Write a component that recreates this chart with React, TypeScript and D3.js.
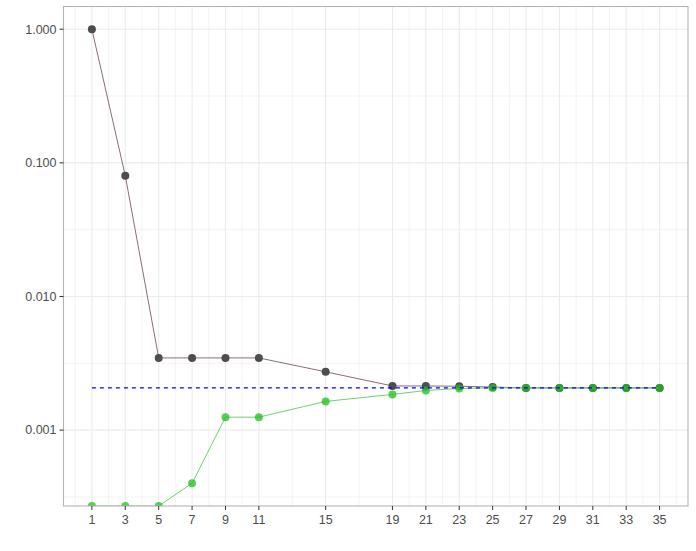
import React from "react";
import * as d3 from "d3";

const xTicks = [1, 3, 5, 7, 9, 11, 15, 19, 21, 23, 25, 27, 29, 31, 33, 35];
const darkValues = [1, 0.08, 0.00347, 0.00347, 0.00347, 0.00347, 0.00273, 0.00214, 0.00214, 0.00213, 0.0021, 0.00207, 0.00207, 0.00207, 0.00207, 0.00207];
const greenValues = [0, 0, 0, 0.0004, 0.00125, 0.00125, 0.00164, 0.00185, 0.00198, 0.00205, 0.00207, 0.00207, 0.00207, 0.00207, 0.00207, 0.00207];
const refValue = 0.00207;
const yTicks = [0.001, 0.01, 0.1, 1];
const yTickLabels = ["0.001", "0.010", "0.100", "1.000"];

const W = 696;
const H = 551;
const panel = { left: 63.5, right: 688, top: 6.5, bottom: 506 };

export default function App() {
  const xMin = d3.min(xTicks)!;
  const xMax = d3.max(xTicks)!;
  const xPad = (xMax - xMin) * 0.05;
  const x = d3.scaleLinear().domain([xMin - xPad, xMax + xPad]).range([panel.left, panel.right]);

  const positives = [...darkValues, ...greenValues].filter((v) => v > 0);
  const lo = Math.log10(d3.min(positives)!);
  const hi = Math.log10(d3.max(positives)!);
  const yPad = (hi - lo) * 0.05;
  const y = d3.scaleLog().domain([Math.pow(10, lo - yPad), Math.pow(10, hi + yPad)]).range([panel.bottom, panel.top]);
  const yv = (v: number) => (v <= 0 ? panel.bottom : y(v));

  // minor breaks
  const xb = [xTicks[0] - (xTicks[1] - xTicks[0]), ...xTicks, xTicks[xTicks.length - 1] + (xTicks[xTicks.length - 1] - xTicks[xTicks.length - 2])];
  const xMinor: number[] = [];
  for (let i = 0; i < xb.length - 1; i++) {
    const m = (xb[i] + xb[i + 1]) / 2;
    if (m > xMin - xPad && m < xMax + xPad) xMinor.push(m);
  }
  const yMinor: number[] = [];
  for (let e = -5; e <= 1; e++) {
    const m = e + 0.5;
    if (m > lo - yPad && m < hi + yPad) yMinor.push(Math.pow(10, m));
  }

  const darkPts = xTicks.map((d, i) => [x(d), yv(darkValues[i])] as [number, number]);
  const greenPts = xTicks.map((d, i) => [x(d), yv(greenValues[i])] as [number, number]);
  const line = d3.line();

  const grid = "#EBEBEB";
  const font = "Arial, 'Liberation Sans', sans-serif";

  return (
    <svg width={W} height={H} style={{ position: "absolute", left: 0, top: 0, background: "#fff" }}>
      <defs>
        <clipPath id="pclip">
          <rect x={panel.left} y={panel.top} width={panel.right - panel.left} height={panel.bottom - panel.top} />
        </clipPath>
      </defs>
      <rect x={0} y={0} width={W} height={H} fill="#fff" />
      {/* grid */}
      {xMinor.map((d) => (
        <line key={"xm" + d} x1={x(d)} x2={x(d)} y1={panel.top} y2={panel.bottom} stroke={grid} strokeWidth={0.6} />
      ))}
      {yMinor.map((d) => (
        <line key={"ym" + d} x1={panel.left} x2={panel.right} y1={y(d)} y2={y(d)} stroke={grid} strokeWidth={0.6} />
      ))}
      {xTicks.map((d) => (
        <line key={"xg" + d} x1={x(d)} x2={x(d)} y1={panel.top} y2={panel.bottom} stroke={grid} strokeWidth={1.07} />
      ))}
      {yTicks.map((d) => (
        <line key={"yg" + d} x1={panel.left} x2={panel.right} y1={y(d)} y2={y(d)} stroke={grid} strokeWidth={1.07} />
      ))}
      <g clipPath="url(#pclip)">
        <path d={line(darkPts)!} fill="none" stroke="#8b6f6f" strokeWidth={1} />
        {darkPts.map((p, i) => (
          <circle key={"dp" + i} cx={p[0]} cy={p[1]} r={4} fill="#4D4D4D" />
        ))}
        <path d={line(greenPts)!} fill="none" stroke="#6ad46a" strokeWidth={1} />
        {greenPts.map((p, i) => (
          <circle key={"gp" + i} cx={p[0]} cy={p[1]} r={4} fill="#1fbf1f" fillOpacity={0.75} />
        ))}
        <line x1={x(xMin)} x2={x(xMax)} y1={y(refValue)} y2={y(refValue)} stroke="#0000ff" strokeWidth={1.3} strokeDasharray="4,4" />
      </g>
      <rect x={panel.left} y={panel.top} width={panel.right - panel.left} height={panel.bottom - panel.top} fill="none" stroke="#B3B3B3" strokeWidth={1.07} />
      {/* y axis */}
      {yTicks.map((d, i) => (
        <g key={"yt" + d}>
          <line x1={panel.left - 4} x2={panel.left} y1={y(d)} y2={y(d)} stroke="#333" strokeWidth={1} />
          <text x={panel.left - 7} y={y(d)} dy="0.35em" textAnchor="end" fontSize={12.5} fontFamily={font} fill="#4D4D4D">
            {yTickLabels[i]}
          </text>
        </g>
      ))}
      {/* x axis */}
      {xTicks.map((d) => (
        <g key={"xt" + d}>
          <line x1={x(d)} x2={x(d)} y1={panel.bottom} y2={panel.bottom + 4} stroke="#333" strokeWidth={1} />
          <text x={x(d)} y={panel.bottom + 14} dy="0.35em" textAnchor="middle" fontSize={12.5} fontFamily={font} fill="#4D4D4D">
            {d}
          </text>
        </g>
      ))}
    </svg>
  );
}
